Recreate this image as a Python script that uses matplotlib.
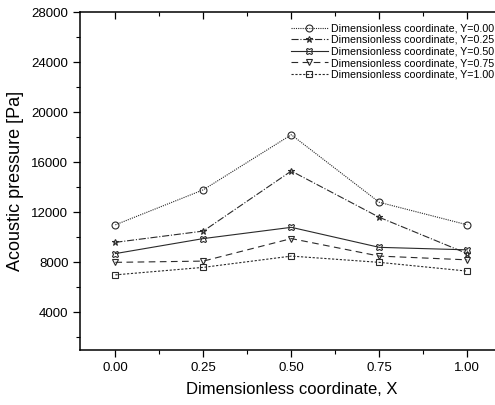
import matplotlib
matplotlib.use("Agg")
import matplotlib.pyplot as plt
from matplotlib.ticker import MultipleLocator

plt.rcParams["font.family"] = ["Liberation Sans", "DejaVu Sans"]

x = [0.00, 0.25, 0.50, 0.75, 1.00]
p_y000 = [11000, 13800, 18200, 12800, 11000]
p_y025 = [9600, 10500, 15300, 11600, 8700]
p_y050 = [8700, 9900, 10800, 9200, 9000]
p_y075 = [8000, 8100, 9900, 8500, 8200]
p_y100 = [7000, 7600, 8500, 8000, 7300]

series = [
    (p_y000, "Dimensionless coordinate, Y=0.00", "o", (0, (1, 1))),
    (p_y025, "Dimensionless coordinate, Y=0.25", "*", "-."),
    (p_y050, "Dimensionless coordinate, Y=0.50", "X", "-"),
    (p_y075, "Dimensionless coordinate, Y=0.75", "v", (0, (6, 4))),
    (p_y100, "Dimensionless coordinate, Y=1.00", "s", (0, (2, 1.5))),
]

fig = plt.figure(figsize=(4.95, 4.05), dpi=100)
ax = fig.add_axes([0.162, 0.136, 0.853, 0.834])

for vals, label, mk, ls in series:
    ax.plot(x, vals, color="#2a2a2a", lw=0.8, ls=ls, marker=mk, ms=5,
            mfc="none", mec="#2a2a2a", mew=0.8, label=label)

ax.set_xlim(-0.1, 1.1)
ax.set_ylim(1000, 28000)
ax.xaxis.set_minor_locator(MultipleLocator(0.125))
ax.yaxis.set_minor_locator(MultipleLocator(2000))
ax.set_xticks([0, 0.25, 0.5, 0.75, 1.0])
ax.set_xticklabels(["0.00", "0.25", "0.50", "0.75", "1.00"])
ax.set_yticks([4000, 8000, 12000, 16000, 20000, 24000, 28000])

ax.tick_params(axis="both", which="major", labelsize=9.5, length=5, width=0.9, direction="out")
ax.tick_params(axis="both", which="minor", length=3, width=0.8, direction="out")
ax.tick_params(axis="x", which="both", top=True)
for sp in ax.spines.values():
    sp.set_linewidth(1.1)
ax.spines["right"].set_visible(False)

ax.set_xlabel("Dimensionless coordinate, X", fontsize=12, labelpad=6)
ax.set_ylabel("Acoustic pressure [Pa]", fontsize=13, labelpad=5)

ax.legend(loc="upper right", bbox_to_anchor=(1.0, 0.945), bbox_transform=fig.transFigure,
          frameon=False, fontsize=7.7, handlelength=3.4, handletextpad=0.3,
          labelspacing=0.15, borderaxespad=0.0, borderpad=0.1)

# top ticks point inward on the reference
for t in ax.xaxis.get_major_ticks() + ax.xaxis.get_minor_ticks():
    t.tick2line.set_marker(3)

fig.savefig("out.png", dpi=100)
